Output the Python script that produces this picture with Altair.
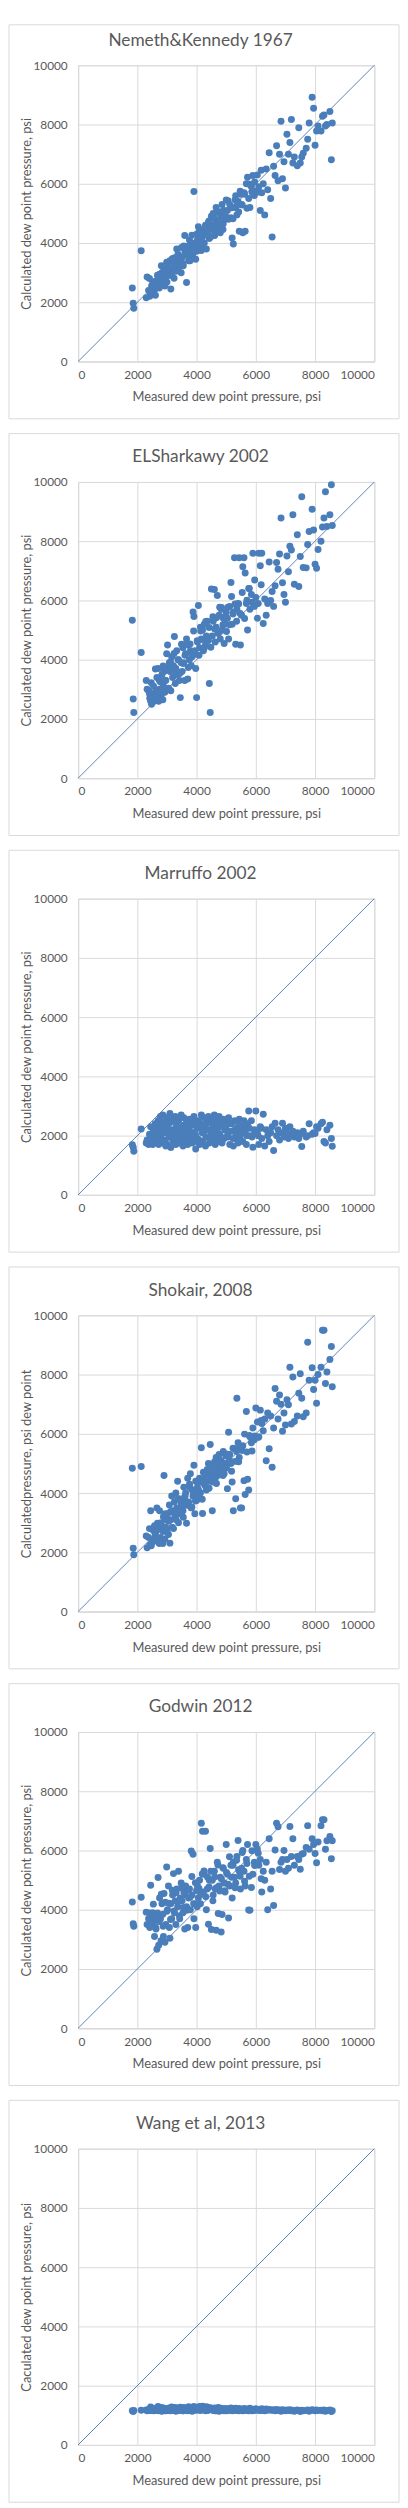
import altair as alt
import pandas as pd

# Measured dew point pressure, psi (shared by all six correlations)
measured = [
    1830, 1860, 1880, 2130,
    2300, 2330, 2380, 2420, 2450, 2480, 2520, 2550, 2580, 2600,
    2630, 2660, 2700, 2720, 2750, 2780, 2800, 2830, 2860, 2880, 2900, 2930, 2960, 2990,
    3020, 3050, 3080, 3100, 3130, 3160, 3190, 3220, 3250, 3280, 3300, 3330, 3360, 3390, 3420, 3450, 3480,
    3510, 3540, 3570, 3600, 3630, 3660, 3700, 3730, 3760, 3790, 3820, 3850, 3880, 3910, 3940, 3970, 4000,
    4030, 4060, 4100, 4130, 4160, 4200, 4230, 4260, 4300, 4330, 4360, 4400, 4430, 4460, 4500,
    4530, 4560, 4600, 4630, 4660, 4700, 4730, 4760, 4800, 4830, 4860, 4900, 4930, 4960, 5000,
    5040, 5080, 5120, 5160, 5200, 5240, 5280, 5320, 5360, 5400, 5440, 5480,
    5520, 5560, 5600, 5640, 5680, 5720, 5760, 5800, 5850, 5900, 5950, 6000,
    6050, 6100, 6150, 6200, 6250, 6300, 6350, 6400, 6450, 6500,
    6550, 6600, 6650, 6700, 6750, 6800, 6850, 6900, 6950, 7000,
    7050, 7100, 7150, 7200, 7250, 7300, 7400, 7450, 7500, 7550, 7600,
    7700, 7750, 7800, 7900, 7950, 8000, 8050, 8100,
    8200, 8250, 8300, 8350, 8400, 8500, 8550, 8580,
    # second batch of samples in the dense middle range
    2410, 2470, 2540, 2610, 2680, 2740, 2810, 2870, 2940, 3000,
    3060, 3120, 3180, 3240, 3310, 3370, 3430, 3490, 3550, 3610,
    3670, 3720, 3780, 3840, 3900, 3960, 4020, 4080, 4140, 4190,
    4250, 4310, 4370, 4420, 4480, 4550, 4610, 4670, 4720, 4780,
    4840, 4890, 4950, 5010, 5060, 5110, 5180, 5230, 5300, 5350,
    5420, 5470, 5540, 5620, 5700, 5780, 5870, 5960, 6080, 6180,
]

nemeth_kennedy = [
    2480, 1970, 1800, 3740,
    2150, 2850, 2400, 2200, 2350, 2550, 2650, 2500, 2700, 2450,
    2700, 2550, 2850, 2650, 2950, 2750, 2600, 3000, 2850, 2700, 3100, 2550, 2900, 3350,
    3200, 2900, 3100, 3400, 2450, 3000, 3350, 3150, 3500, 3250, 3050, 3800, 3300, 3600, 3200, 3450, 3000,
    3500, 3300, 3900, 4250, 3600, 2670, 3700, 3400, 4100, 3800, 3550, 4000, 3650, 5740, 3900, 3450, 4300,
    4100, 4550, 3900, 4300, 3750, 4200, 4450, 4000, 4600, 3800, 4350, 4700, 4150, 4500, 4900,
    4600, 5000, 4400, 4800, 5200, 4500, 4700, 5050, 4350, 4900, 5300, 4650, 5100, 4800, 5450,
    5100, 4800, 5300, 4850, 4170, 3970, 5200, 5600, 4950, 5400, 4400, 5650,
    5300, 4350, 5700, 4400, 6000, 6220, 5500, 5200, 5900, 6280, 5600, 5750,
    6300, 5900, 5100, 5700, 6000, 4950, 6500, 5800, 7050, 5500,
    4200, 6590, 6280, 7280, 6100, 7000, 8110, 6170, 6740, 5860,
    7670, 7000, 7390, 8170, 6700, 6900, 6610, 7890, 6700, 6900, 7030,
    7200, 7500, 8050, 8920, 8550, 7300, 7780, 7950,
    7780, 8280, 8320, 7950, 8000, 8440, 6810, 8050,
    2800, 2380, 2590, 2240, 2910, 2480, 3230, 2810, 3080, 2680,
    3130, 2910, 3470, 2810, 3300, 3610, 3260, 3850, 3230, 3710,
    3610, 3900, 3400, 4260, 3690, 3990, 3730, 4380, 4020, 4330,
    3820, 4510, 4310, 4740, 4210, 4600, 4250, 5030, 4530, 4750,
    5060, 4460, 5070, 4870, 5430, 4830, 5190, 4820, 5460, 5250,
    5050, 5750, 5280, 5650, 5170, 5980, 5710, 6060, 5720, 6460,
]

elsharkawy = [
    5330, 2670, 2220, 4240,
    3300, 3000, 2950, 2700, 2600, 2500, 2800, 3100, 2650, 2900,
    2750, 3400, 3700, 2600, 3000, 3250, 2800, 3500, 2650, 3100, 3600, 2900, 3300, 4200,
    4500, 3000, 3900, 3600, 2950, 4100, 3400, 3800, 4780, 3200, 3700, 4300, 3500, 4000, 3300, 2720, 3900,
    3600, 4400, 3900, 3300, 4200, 4700, 3350, 4500, 4000, 4300, 3800, 4100, 5610, 5460, 4300, 3700, 2720,
    4600, 5830, 4400, 5100, 4700, 5000, 4300, 5200, 4500, 4800, 5300, 4650, 3200, 2220, 6390,
    4800, 5300, 6370, 4600, 5100, 6170, 4900, 5500, 4700, 5700, 5000, 5400, 4550, 5200, 5600,
    5400, 4700, 5800, 6610, 5200, 5600, 7440, 4520, 5700, 5900, 7440, 4500,
    5500, 7140, 7440, 6930, 5900, 5000, 6400, 5700, 6200, 7590, 5800, 6100,
    5400, 7590, 7170, 7590, 5220, 6050, 5500, 5900, 7300, 6000,
    6300, 5800, 6500, 7280, 7050, 7570, 8780, 6600, 6200, 5940,
    7500, 6970, 7830, 7700, 8890, 6550, 8220, 6470, 7480, 9500, 7110,
    7100, 7890, 8330, 9080, 8380, 7220, 7090, 7720,
    8000, 8480, 8780, 9670, 8500, 8890, 9910, 8530,
    2850, 3220, 2580, 3690, 2940, 3310, 2960, 3790, 3310, 3720,
    3040, 3930, 3650, 4210, 3510, 4000, 3530, 4520, 3870, 4150,
    4530, 3740, 4530, 4250, 4970, 4190, 4640, 4150, 4970, 4680,
    4390, 5290, 4660, 5090, 4420, 5450, 5040, 5420, 4890, 5770,
    5760, 5180, 5440, 4950, 5770, 5180, 6130, 5540, 5880, 5300,
    5880, 5560, 6270, 5390, 6010, 6400, 5940, 6690, 5900, 6530,
]

marruffo = [
    1690, 1610, 1470, 2220,
    1750, 1850, 1700, 1800, 2300, 1950, 1700, 2100, 1900, 2400,
    2200, 1800, 2500, 1700, 2000, 2650, 1900, 2300, 2700, 1750, 2450, 2100, 1650, 2600,
    1700, 2400, 1950, 2750, 1600, 2200, 2550, 1800, 2050, 2650, 1700, 2300, 1900, 2500, 2100, 1750, 2700,
    2000, 1650, 2600, 1800, 2200, 2450, 1700, 2050, 2550, 1900, 2350, 1750, 2100, 2650, 1800, 1550, 2300,
    1900, 2500, 1700, 2250, 2700, 1800, 2100, 2600, 1650, 2400, 1950, 2650, 1750, 2200, 2550,
    1850, 2300, 2700, 1700, 2100, 2500, 1800, 2650, 2000, 2350, 1750, 2550, 1900, 2200, 2450,
    2000, 2600, 1700, 2400, 2150, 1650, 2500, 1900, 2250, 1750, 2550, 2050,
    2300, 1800, 2500, 2100, 1700, 2400, 2830, 2000, 2500, 1610, 2200, 2830,
    2100, 1700, 2300, 1900, 2720, 1650, 2200, 2000, 1800, 2100,
    2300, 1500, 2420, 2000, 2200, 1850, 2100, 2420, 1950, 2250,
    2100, 1900, 2300, 2000, 2150, 1950, 2100, 1900, 2050, 1630, 2150,
    1950, 2000, 2400, 2050, 2100, 2070, 2300, 2250,
    2400, 2450, 1800, 1750, 2200, 2350, 1900, 1640,
    2050, 1850, 2200, 2000, 2350, 1900, 2150, 2450, 1850, 2250,
    2050, 2450, 1900, 2200, 2400, 2000, 2250, 1850, 2350, 2100,
    1900, 2300, 2150, 1950, 2450, 2050, 2250, 1850, 2400, 2100,
    2300, 1950, 2200, 2450, 2000, 2150, 2400, 1950, 2250, 2050,
    2400, 1900, 2200, 2350, 1950, 2150, 2400, 1900, 2200, 2050,
    2350, 1950, 2150, 2300, 2000, 2250, 1950, 2150, 2000, 2250,
]

shokair = [
    4840, 2140, 1920, 4900,
    2550, 2150, 2500, 2250, 3400, 2300, 2800, 2400, 2900, 2650,
    2700, 3500, 2350, 2900, 3400, 2500, 3000, 2750, 2300, 3200, 4590, 2450, 2850, 3100,
    3300, 2600, 3600, 2310, 3100, 3900, 3400, 2800, 3700, 3200, 4000, 3500, 4400, 3000, 3800, 3300, 3600,
    3800, 3400, 4200, 3600, 4000, 2980, 4500, 3700, 4300, 4650, 3500, 4100, 3900, 4940, 3300, 4400, 3750,
    4200, 3850, 4500, 4000, 5530, 3310, 4700, 4300, 4600, 4100, 4800, 5000, 4400, 5640, 4900,
    3400, 4700, 5000, 4500, 5200, 4800, 4600, 5300, 4900, 5100, 4700, 5400, 4650, 5000, 5250,
    4150, 6050, 5300, 5000, 4370, 3400, 5500, 3810, 7200, 5700, 5200, 3500,
    3500, 5600, 4420, 3950, 6750, 4470, 4100, 5900, 5700, 6200, 5800, 6870,
    6400, 5900, 6800, 6350, 6100, 6500, 5090, 6700, 5500, 6600,
    4870, 6200, 7530, 7100, 6500, 7310, 7000, 6090, 6700, 6300,
    7150, 6980, 8250, 6330, 7920, 6420, 6600, 7370, 8030, 7200, 6580,
    6700, 9090, 7810, 8230, 7500, 7810, 7030, 8000,
    8250, 9500, 9500, 7700, 8090, 8510, 8950, 7590,
    2800, 2220, 2740, 2550, 2980, 2300, 2930, 2700, 3300, 2720,
    3050, 3370, 2850, 3330, 3100, 3810, 3360, 3680, 3180, 3890,
    3700, 3580, 4190, 3530, 4000, 3730, 4380, 4060, 4380, 3790,
    4420, 4220, 4700, 4160, 4540, 4370, 5060, 4320, 4920, 4740,
    4960, 4590, 5330, 4850, 5310, 5110, 4740, 5510, 5070, 5400,
    5060, 5580, 5440, 5990, 5390, 5940, 5420, 5930, 5880, 6450,
]

godwin = [
    4260, 3530, 3440, 4420,
    3920, 3500, 3700, 3400, 4830, 3800, 3900, 3600, 3100, 3750,
    3350, 2670, 5090, 2800, 4400, 3700, 2950, 4200, 3850, 3100, 4550, 2900, 3500, 5440,
    4000, 4800, 3400, 3040, 4200, 3700, 4500, 5220, 3900, 4300, 3500, 4700, 4100, 5300, 3800, 4400, 4900,
    4300, 3900, 4600, 3350, 4800, 4100, 3400, 4400, 4700, 4000, 5980, 4500, 5870, 3700, 4200, 3400, 4650,
    4800, 4400, 5000, 4200, 6920, 6650, 4600, 5200, 6650, 4000, 4700, 3510, 5000, 6070, 3330,
    5000, 4500, 5300, 4700, 3310, 5600, 3870, 4800, 5100, 3250, 3840, 5400, 4900, 4600, 6200,
    5200, 3720, 4800, 5500, 4400, 5600, 5100, 4900, 5800, 6340, 5300, 4700,
    5400, 6000, 5300, 4800, 5700, 6200, 3990, 3980, 4750, 5200, 5600, 6200,
    6050, 5500, 5700, 4600, 5300, 5000, 5600, 4000, 6400, 4700,
    5300, 4140, 6020, 6920, 6800, 5360, 5600, 5700, 6000, 5300,
    5700, 5400, 6810, 5800, 6400, 5500, 5800, 5700, 5370, 5870, 5900,
    6100, 6840, 6040, 6400, 6200, 5900, 5590, 6290,
    6840, 7040, 7040, 6040, 6330, 6470, 5720, 6330,
    3890, 3560, 4190, 3410, 3890, 3600, 4520, 3440, 4250, 3950,
    4220, 3670, 4660, 3960, 4570, 4260, 3700, 4740, 4080, 4510,
    3980, 4670, 4420, 5120, 4200, 4910, 4100, 4720, 4520, 5210,
    5310, 4440, 5100, 4770, 5300, 4300, 5110, 4740, 5510, 4630,
    5040, 5420, 4640, 5260, 4860, 5790, 5100, 5500, 4740, 5670,
    5350, 5130, 5930, 4960, 5560, 5130, 5990, 5490, 5910, 5050,
]

wang = [
    1150, 1130, 1160, 1170,
    1180, 1150, 1200, 1160, 1280, 1170, 1200, 1150, 1220, 1180,
    1200, 1160, 1300, 1150, 1220, 1180, 1260, 1140, 1200, 1250, 1170, 1210, 1150, 1230,
    1170, 1210, 1250, 1150, 1200, 1280, 1160, 1230, 1190, 1260, 1140, 1220, 1180, 1240, 1160, 1270, 1200,
    1220, 1150, 1260, 1180, 1200, 1240, 1150, 1290, 1170, 1210, 1250, 1140, 1230, 1300, 1190, 1260, 1220,
    1180, 1250, 1300, 1160, 1230, 1310, 1200, 1270, 1150, 1290, 1220, 1180, 1260, 1200, 1240,
    1210, 1170, 1250, 1150, 1230, 1190, 1260, 1140, 1210, 1240, 1170, 1200, 1150, 1230, 1180,
    1160, 1220, 1190, 1250, 1150, 1210, 1180, 1240, 1160, 1200, 1230, 1170,
    1200, 1150, 1230, 1170, 1210, 1190, 1150, 1240, 1180, 1200, 1160, 1220,
    1180, 1200, 1160, 1220, 1190, 1150, 1210, 1170, 1200, 1180,
    1170, 1190, 1150, 1200, 1160, 1180, 1140, 1190, 1170, 1150,
    1180, 1160, 1190, 1150, 1170, 1140, 1180, 1160, 1130, 1170, 1150,
    1160, 1180, 1140, 1190, 1170, 1150, 1180, 1160,
    1170, 1150, 1180, 1140, 1160, 1180, 1130, 1150,
    1160, 1210, 1180, 1230, 1170, 1200, 1150, 1240, 1190, 1160,
    1220, 1180, 1250, 1170, 1210, 1160, 1230, 1190, 1150, 1220,
    1180, 1240, 1160, 1200, 1250, 1170, 1230, 1190, 1270, 1210,
    1180, 1240, 1160, 1200, 1220, 1170, 1210, 1150, 1190, 1230,
    1160, 1200, 1180, 1150, 1210, 1170, 1190, 1160, 1200, 1180,
    1150, 1190, 1170, 1200, 1160, 1180, 1150, 1190, 1170, 1160,
]

diagonal = [0, 10000]
tick_values = [0, 2000, 4000, 6000, 8000, 10000]

titles = [
    "Nemeth&Kennedy 1967",
    "ELSharkawy 2002",
    "Marruffo 2002",
    "Shokair, 2008",
    "Godwin 2012",
    "Wang et al, 2013",
]
y_titles = [
    "Calculated dew point pressure, psi",
    "Calculated dew point pressure, psi",
    "Calculated dew point pressure, psi",
    "Calculatedpressure, psi dew point",
    "Calculated dew point pressure, psi",
    "Caculated dew point pressure, psi",
]
x_title = "Measured dew point pressure, psi"
series = [nemeth_kennedy, elsharkawy, marruffo, shokair, godwin, wang]

FONT = "Lato"
GRID = "#d9d9d9"
TEXT = "#595959"
DOT = "#4a7ebb"
LINE = "#4f72b5"


def panel(i):
    pts = pd.DataFrame({"measured": measured, "calc": series[i]})
    ref = pd.DataFrame({"measured": diagonal, "calc": diagonal})
    one = pd.DataFrame({"f": [0]})
    xs = alt.Scale(domain=[0, 10000], nice=False)
    ys = alt.Scale(domain=[0, 10000], nice=False)
    xax = alt.Axis(
        values=tick_values, format="d", title=x_title, grid=True, gridColor=GRID,
        gridWidth=1, domainColor=GRID, ticks=False, labelPadding=8, labelColor=TEXT,
        labelFont=FONT, labelFontSize=12, titleFont=FONT, titleFontSize=13,
        titleColor=TEXT, titleFontWeight="normal", titleX=150, titleY=36,
        titleBaseline="middle",
    )
    yax = alt.Axis(
        values=tick_values, format="d", title=y_titles[i], grid=True, gridColor=GRID,
        gridWidth=1, domainColor=GRID, ticks=False, labelPadding=11, labelColor=TEXT,
        labelFont=FONT, labelFontSize=12, titleFont=FONT, titleFontSize=13,
        titleColor=TEXT, titleFontWeight="normal", titleX=-52, titleY=150,
        titleBaseline="middle", titleAngle=270,
    )
    top = -41 if i == 0 else -49
    frame = alt.Chart(one).mark_rect(
        fill="white", fillOpacity=0, stroke=GRID, strokeWidth=1
    ).encode(x=alt.value(-70), x2=alt.value(325), y=alt.value(top), y2=alt.value(358))
    title = alt.Chart(one).mark_text(
        text=titles[i], font=FONT, fontSize=17.5, color=TEXT, align="center",
        baseline="alphabetic",
    ).encode(x=alt.value(124), y=alt.value(-20))
    line = alt.Chart(ref).mark_line(color=LINE, strokeWidth=0.9).encode(
        x=alt.X("measured:Q", scale=xs, axis=xax),
        y=alt.Y("calc:Q", scale=ys, axis=yax),
    )
    dots = alt.Chart(pts).mark_circle(size=50, color=DOT, opacity=1).encode(
        x=alt.X("measured:Q", scale=xs, axis=xax),
        y=alt.Y("calc:Q", scale=ys, axis=yax),
    )
    return alt.layer(frame, title, line, dots).properties(width=300, height=300)


chart = alt.vconcat(*[panel(i) for i in range(6)], spacing=13).properties(
    padding=0
).configure_view(stroke=GRID, strokeWidth=1)

chart.save("out.html", embed_options={"renderer": "svg", "actions": False})
